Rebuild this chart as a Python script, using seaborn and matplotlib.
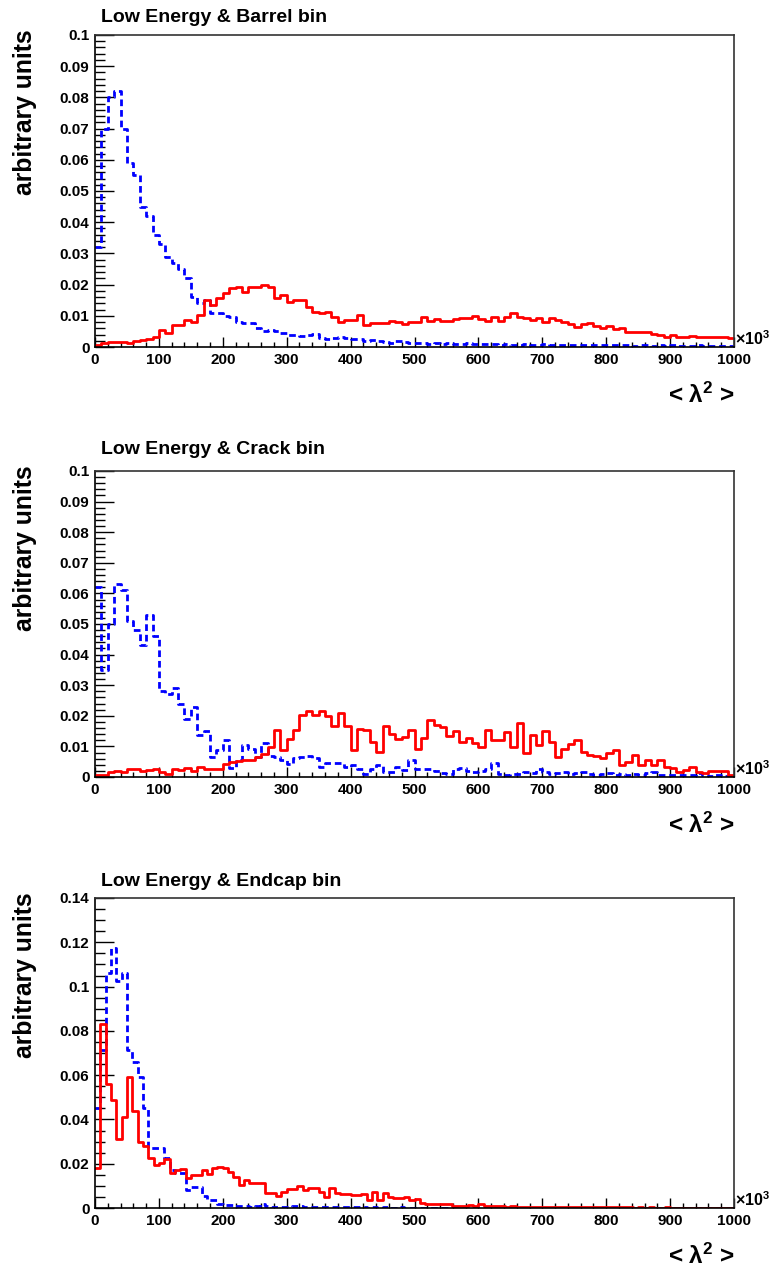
import numpy as np
import pandas as pd
import seaborn as sns
import matplotlib.pyplot as plt
from matplotlib.ticker import MultipleLocator

sns.set_style("ticks")
plt.rcParams['font.family'] = ['Liberation Sans', 'DejaVu Sans']
plt.rcParams['font.weight'] = 'bold'
plt.rcParams['text.color'] = 'black'
plt.rcParams['xtick.color'] = 'black'
plt.rcParams['ytick.color'] = 'black'
plt.rcParams['mathtext.fontset'] = 'custom'
plt.rcParams['mathtext.rm'] = 'Liberation Sans:bold'
plt.rcParams['mathtext.bf'] = 'Liberation Sans:bold'
plt.rcParams['mathtext.it'] = 'Liberation Sans:bold'

# ================= DATA =================
titles = ["Low Energy & Barrel bin", "Low Energy & Crack bin", "Low Energy & Endcap bin"]
x_range = (0, 1000)
n_bins = [100, 100, 120]

barrel_blue = [
    0.032, 0.070, 0.080, 0.082, 0.070, 0.059, 0.055, 0.045, 0.042, 0.036,
    0.033, 0.029, 0.027, 0.025, 0.022, 0.016, 0.014, 0.015, 0.011, 0.011,
    0.010, 0.0096, 0.0081, 0.0076, 0.0076, 0.006, 0.005, 0.0055, 0.005, 0.0044,
    0.004, 0.004, 0.0035, 0.004, 0.0042, 0.003, 0.0025, 0.003, 0.0032, 0.0028,
    0.0025, 0.0027, 0.002, 0.0022, 0.002, 0.0015, 0.0012, 0.0018, 0.0015, 0.0013,
    0.0014, 0.0012, 0.0010, 0.0013, 0.0011, 0.0012, 0.0010, 0.0011, 0.0012, 0.0009,
    0.0011, 0.0010, 0.0009, 0.0008, 0.0010, 0.0008, 0.0007, 0.0009, 0.0008, 0.0007,
    0.0009, 0.0008, 0.0006, 0.0007, 0.0008, 0.0006, 0.0007, 0.0006, 0.0005, 0.0007,
    0.0006, 0.0005, 0.0006, 0.0005, 0.0004, 0.0005, 0.0006, 0.0004, 0.0005, 0.0004,
    0.0005, 0.0004, 0.0003, 0.0004, 0.0005, 0.0003, 0.0004, 0.0003, 0.0004, 0.0003,
]
barrel_red = [
    0.0006, 0.0014, 0.0015, 0.0016, 0.0017, 0.0014, 0.002, 0.0022, 0.0026, 0.0033,
    0.0054, 0.0044, 0.007, 0.007, 0.0087, 0.0081, 0.0103, 0.0151, 0.0135, 0.0156,
    0.0172, 0.0188, 0.0193, 0.0177, 0.0193, 0.0193, 0.0199, 0.0193, 0.0156, 0.0167,
    0.0145, 0.015, 0.015, 0.0129, 0.0113, 0.0108, 0.0113, 0.0097, 0.0081, 0.0087,
    0.0087, 0.0103, 0.007, 0.0076, 0.0076, 0.0078, 0.0084, 0.0081, 0.0074, 0.0081,
    0.0081, 0.0097, 0.0084, 0.009, 0.0084, 0.0084, 0.009, 0.0092, 0.0092, 0.0098,
    0.009, 0.0084, 0.0097, 0.0084, 0.0097, 0.011, 0.0097, 0.0092, 0.0087, 0.0092,
    0.0081, 0.0092, 0.0087, 0.0079, 0.0074, 0.0065, 0.0074, 0.0076, 0.0067, 0.006,
    0.0067, 0.0058, 0.006, 0.0049, 0.0047, 0.0047, 0.0047, 0.0042, 0.0038, 0.0033,
    0.0038, 0.0033, 0.0031, 0.0036, 0.0033, 0.0031, 0.0033, 0.0031, 0.0033, 0.0028,
]

crack_blue = [
    0.062, 0.035, 0.050, 0.063, 0.061, 0.051, 0.048, 0.043, 0.053, 0.046,
    0.028, 0.027, 0.029, 0.024, 0.019, 0.023, 0.0137, 0.015, 0.0066, 0.0088,
    0.012, 0.003, 0.0055, 0.0103, 0.0092, 0.0065, 0.011, 0.007, 0.0065, 0.0054,
    0.0043, 0.0063, 0.0065, 0.0067, 0.0063, 0.0033, 0.0046, 0.0046, 0.0046, 0.0033,
    0.0038, 0.0027, 0.0009, 0.0027, 0.0038, 0.0016, 0.0016, 0.0033, 0.0022, 0.0054,
    0.0027, 0.0025, 0.0025, 0.002, 0.0012, 0.001, 0.0025, 0.003, 0.002, 0.0015,
    0.002, 0.0025, 0.0045, 0.001, 0.0008, 0.001, 0.001, 0.0015, 0.0012, 0.0025,
    0.0015, 0.001, 0.0012, 0.0015, 0.001, 0.0012, 0.0015, 0.001, 0.0008, 0.001,
    0.0012, 0.0008, 0.001, 0.0006, 0.001, 0.0006, 0.0012, 0.0015, 0.0008, 0.0008,
    0.0006, 0.0005, 0.0008, 0.0006, 0.0012, 0.0005, 0.0004, 0.0005, 0.0003, 0.0004,
]
crack_red = [
    0.0007, 0.0007, 0.0017, 0.002, 0.0015, 0.0025, 0.0027, 0.002, 0.0023, 0.0025,
    0.0016, 0.001, 0.0026, 0.0023, 0.0028, 0.002, 0.0034, 0.0027, 0.0027, 0.0027,
    0.0043, 0.0049, 0.0052, 0.0054, 0.0054, 0.0065, 0.0076, 0.0098, 0.0152, 0.0089,
    0.0125, 0.0152, 0.0201, 0.0216, 0.0201, 0.0216, 0.020, 0.0168, 0.021, 0.0168,
    0.0087, 0.0158, 0.0152, 0.0114, 0.0082, 0.0168, 0.0141, 0.0125, 0.013, 0.0152,
    0.0093, 0.0126, 0.0186, 0.0170, 0.0164, 0.0135, 0.0150, 0.0115, 0.0126, 0.0110,
    0.0099, 0.0155, 0.0120, 0.0120, 0.0148, 0.0099, 0.0177, 0.0077, 0.0137, 0.0104,
    0.0150, 0.0115, 0.0066, 0.0093, 0.0107, 0.0120, 0.0082, 0.0072, 0.0068, 0.0061,
    0.0077, 0.0088, 0.0039, 0.0048, 0.0072, 0.0039, 0.0055, 0.0039, 0.0055, 0.0034,
    0.0028, 0.0017, 0.0023, 0.0034, 0.0017, 0.0014, 0.0020, 0.0020, 0.0018, 0.0005,
]

endcap_blue = [
    0.045, 0.0715, 0.106, 0.1175, 0.1024, 0.106, 0.0715, 0.066, 0.059, 0.045,
    0.027, 0.027, 0.027, 0.0225, 0.017, 0.0157, 0.0157, 0.008, 0.0097, 0.0097,
    0.0054, 0.0036, 0.0036, 0.002, 0.0014, 0.0012, 0.001, 0.0008, 0.0008, 0.0006,
    0.0008, 0.002, 0.0008, 0.0006, 0.0005, 0.0006, 0.0005, 0.0008, 0.001, 0.0006,
    0.0005, 0.0004, 0.0005, 0.0004, 0.0003, 0.0004, 0.0003, 0.0004, 0.0003, 0.0003,
    0.0003, 0.0002, 0.0003, 0.0002, 0.0003, 0.0002, 0.0002, 0.0003, 0.0002, 0.0002,
    0.0002, 0.0002, 0.0001, 0.0002, 0.0002, 0.0001, 0.0002, 0.0001, 0.0001, 0.0002,
    0.0001, 0.0001, 0.0001, 0.0002, 0.0001, 0.0001, 0.0001, 0.0001, 0.0001, 0.0001,
    0.0001, 0.0001, 0.0001, 0.0001, 0.0001, 0.0001, 0.0001, 0.0001, 0.0001, 0.0001,
    0.0001, 0.0001, 0.0001, 0.0001, 0.0001, 0.0001, 0.0001, 0.0001, 0.0001, 0.0001,
    0.0001, 0.0001, 0.0001, 0.0001, 0.0001, 0.0001, 0.0001, 0.0001, 0.0001, 0.0001,
    0.0001, 0.0001, 0.0001, 0.0001, 0.0001, 0.0001, 0.0001, 0.0001, 0.0001, 0.0001,
]
endcap_red = [
    0.018, 0.083, 0.056, 0.049, 0.031, 0.041, 0.059, 0.044, 0.030, 0.028,
    0.0225, 0.0195, 0.0205, 0.022, 0.016, 0.017, 0.0175, 0.0134, 0.015, 0.015,
    0.017, 0.0154, 0.018, 0.0187, 0.018, 0.0164, 0.0139, 0.0104, 0.0127, 0.0112,
    0.0112, 0.0115, 0.0066, 0.0066, 0.0054, 0.0074, 0.0084, 0.0084, 0.010, 0.0081,
    0.0089, 0.0089, 0.0074, 0.0051, 0.0089, 0.0066, 0.0063, 0.0063, 0.0059, 0.0059,
    0.0063, 0.0036, 0.0074, 0.0036, 0.0066, 0.0051, 0.0044, 0.0044, 0.0048, 0.0036,
    0.004, 0.0021, 0.0018, 0.002, 0.002, 0.002, 0.0018, 0.001, 0.001, 0.001,
    0.0012, 0.001, 0.0018, 0.0008, 0.0007, 0.0008, 0.0007, 0.0006, 0.0007, 0.0006,
    0.0005, 0.0006, 0.0005, 0.0005, 0.0004, 0.0005, 0.0004, 0.0004, 0.0005, 0.0004,
    0.0003, 0.0004, 0.0003, 0.0004, 0.0003, 0.0003, 0.0004, 0.0003, 0.0003, 0.0003,
    0.0003, 0.0002, 0.0003, 0.0002, 0.0003, 0.0002, 0.0002, 0.0003, 0.0002, 0.0002,
    0.0002, 0.0002, 0.0002, 0.0002, 0.0002, 0.0001, 0.0002, 0.0002, 0.0001, 0.0002,
]

y_max = [0.1, 0.1, 0.14]
y_major = [0.01, 0.01, 0.02]
y_minor = [0.002, 0.002, 0.005]
y_ticklabels = [
    ["0", "0.01", "0.02", "0.03", "0.04", "0.05", "0.06", "0.07", "0.08", "0.09", "0.1"],
    ["0", "0.01", "0.02", "0.03", "0.04", "0.05", "0.06", "0.07", "0.08", "0.09", "0.1"],
    ["0", "0.02", "0.04", "0.06", "0.08", "0.1", "0.12", "0.14"],
]
x_ticks = [0, 100, 200, 300, 400, 500, 600, 700, 800, 900, 1000]

reds = [barrel_red, crack_red, endcap_red]
blues = [barrel_blue, crack_blue, endcap_blue]

# ================= LAYOUT (pixels) =================
W, H = 772, 1268
left, right = 95, 734
frames = [(35, 347), (471, 777), (898, 1208)]
title_y = [17, 449, 881]

fig = plt.figure(figsize=(W / 100, H / 100), dpi=100)
fig.patch.set_facecolor("white")

for i in range(3):
    top, bottom = frames[i]
    ax = fig.add_axes([left / W, 1 - bottom / H, (right - left) / W, (bottom - top) / H])

    # list, not array: seaborn compares bins to "auto" when weights are given
    edges = list(np.linspace(x_range[0], x_range[1], n_bins[i] + 1))
    centers = [(edges[k] + edges[k + 1]) / 2 for k in range(n_bins[i])]
    df_blue = pd.DataFrame({"lam2": centers, "w": blues[i]})
    df_red = pd.DataFrame({"lam2": centers, "w": reds[i]})

    sns.histplot(data=df_blue, x="lam2", weights="w", bins=edges, element="step", fill=False,
                 color="#0000ff", linewidth=2.0, linestyle=(0, (2.4, 1.4)), ax=ax)
    sns.histplot(data=df_red, x="lam2", weights="w", bins=edges, element="step", fill=False,
                 color="#ff0000", linewidth=2.0, ax=ax)

    ax.set_xlim(*x_range)
    ax.set_ylim(0, y_max[i])
    ax.set_xlabel("")
    ax.set_ylabel("")

    ax.set_xticks(x_ticks, [str(t) for t in x_ticks])
    ax.xaxis.set_minor_locator(MultipleLocator(20))
    yt = np.arange(len(y_ticklabels[i])) * y_major[i]
    ax.set_yticks(yt, y_ticklabels[i])
    ax.yaxis.set_minor_locator(MultipleLocator(y_minor[i]))

    ax.tick_params(axis="x", which="major", direction="in", length=7, width=1,
                   labelsize=11, pad=4, top=False, labelcolor="black")
    ax.tick_params(axis="x", which="minor", direction="in", length=3.5, width=1, top=False)
    ax.tick_params(axis="y", which="major", direction="in", length=13.5, width=1,
                   labelsize=11, pad=4, right=False, labelcolor="black")
    ax.tick_params(axis="y", which="minor", direction="in", length=7, width=1, right=False)
    for lab in ax.get_xticklabels() + ax.get_yticklabels():
        lab.set_fontweight("bold")

    for s in ["left", "bottom"]:
        ax.spines[s].set_color("black")
        ax.spines[s].set_linewidth(1.2)
    for s in ["top", "right"]:
        ax.spines[s].set_visible(True)
        ax.spines[s].set_color("#333333")
        ax.spines[s].set_linewidth(1.2)

    ax.text(1.002, -0.004, r"×10$^{3}$", transform=ax.transAxes, ha="left", va="bottom",
            fontsize=11.5, color="black")

    fig.text(101 / W, 1 - title_y[i] / H, titles[i], ha="left", va="center",
             fontsize=14, fontweight="bold", color="black")
    fig.text(25 / W, 1 - (top - 6) / H, "arbitrary units", rotation=90,
             ha="center", va="top", fontsize=17.8, fontweight="bold", color="black")
    fig.text(735 / W, 1 - (bottom + 48) / H, r"< λ$^{2}$ >", ha="right", va="center",
             fontsize=17.5, fontweight="bold", color="black")

fig.savefig("out.png", dpi=100, facecolor="white")
